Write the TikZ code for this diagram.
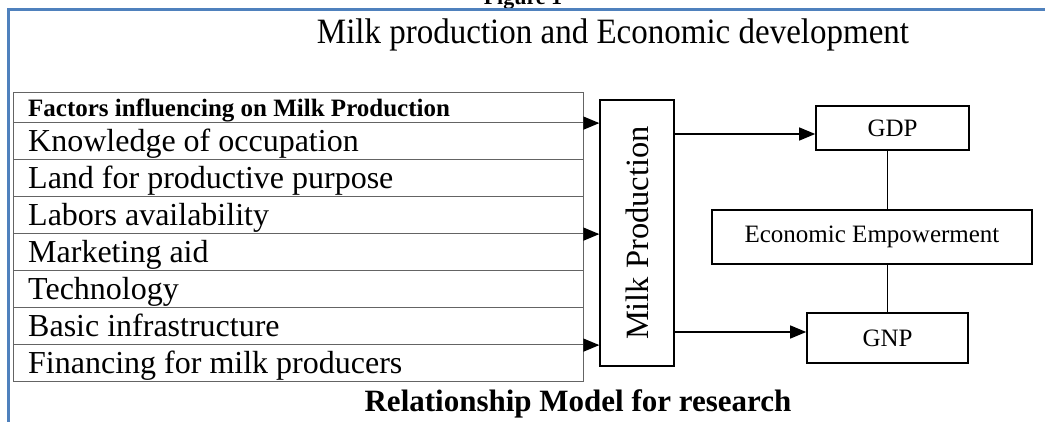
\documentclass[tikz,border=0pt]{standalone}
\usepackage{fontspec}
\setmainfont{Liberation Serif}
\usetikzlibrary{arrows.meta,calc}
\definecolor{framebl}{RGB}{79,129,189}
\definecolor{tabline}{RGB}{100,100,100}
\tikzset{
  rowbox/.style={draw=tabline, line width=1.1pt, minimum width=570pt, minimum height=37pt, inner sep=0pt, anchor=north west},
  hdrbox/.style={rowbox, minimum height=30pt},
  itemtxt/.style={font=\fontsize{32}{34}\selectfont, anchor=base west, inner sep=0pt},
  hdrtxt/.style={font=\fontsize{25}{27}\selectfont\bfseries, anchor=base west, inner sep=0pt},
  blkbox/.style={draw=black, line width=1.6pt, inner sep=0pt},
  boxtxt/.style={font=\fontsize{25}{27}\selectfont},
  arr/.style={line width=1.3pt, -{Triangle[length=16pt,width=13pt]}},
  conn/.style={line width=1.3pt}
}
\begin{document}
\begin{tikzpicture}[x=1pt,y=-1pt]
\useasboundingbox (0,0) rectangle (1045,421);
\fill[white] (0,0) rectangle (1045,421);
% partially visible heading
\node[font=\fontsize{22}{24}\selectfont\bfseries, anchor=base, inner sep=0pt] (fig) at (523,4) {Figure 1};
% frame
\draw[framebl, line width=3pt] (8,430) -- (8,9) -- (1060,9);
% title
\node[font=\fontsize{33}{35}\selectfont, anchor=base, inner sep=0pt, yscale=1.08] (title) at (613,43) {Milk production and Economic development};
% table
\node[hdrbox] (r0) at (13,92) {};
\node[rowbox] (r1) at (13,122) {};
\node[rowbox] (r2) at (13,159) {};
\node[rowbox] (r3) at (13,196) {};
\node[rowbox] (r4) at (13,233) {};
\node[rowbox] (r5) at (13,270) {};
\node[rowbox] (r6) at (13,307) {};
\node[rowbox] (r7) at (13,344) {};
\node[hdrtxt] (t0) at ($(r0.north west)+(15,24)$) {Factors influencing on Milk Production};
\node[itemtxt] (t1) at ($(r1.north west)+(15,29)$) {Knowledge of occupation};
\node[itemtxt] (t2) at ($(r2.north west)+(15,29)$) {Land for productive purpose};
\node[itemtxt] (t3) at ($(r3.north west)+(15,29)$) {Labors availability};
\node[itemtxt] (t4) at ($(r4.north west)+(15,29)$) {Marketing aid};
\node[itemtxt] (t5) at ($(r5.north west)+(15,29)$) {Technology};
\node[itemtxt] (t6) at ($(r6.north west)+(15,29)$) {Basic infrastructure};
\node[itemtxt] (t7) at ($(r7.north west)+(15,29)$) {Financing for milk producers};
% milk production box
\node[blkbox, line width=1.3pt, minimum width=74pt, minimum height=266pt] (mp) at (637,233) {};
\node[font=\fontsize{32.5}{34}\selectfont, rotate=90, inner sep=0pt] (mpt) at (mp.center) {Milk Production};
% arrows from table
\draw[arr] (r0.south east) -- (r0.south east -| mp.west);
\draw[arr] (r3.south east) -- (r3.south east -| mp.west);
\draw[arr] (r6.south east) -- (r6.south east -| mp.west);
% right boxes
\node[blkbox, minimum width=153pt, minimum height=44pt, boxtxt] (gdp) at (892.5,128) {GDP};
\node[blkbox, minimum width=320pt, minimum height=54pt, boxtxt] (ee) at (872,237) {Economic Empowerment};
\node[blkbox, minimum width=161pt, minimum height=50pt, boxtxt] (gnp) at (887.5,338) {GNP};
\draw[arr] ([yshift=-6pt]gdp.west -| mp.east) -- ([yshift=-6pt]gdp.west);
\draw[arr] ([yshift=6pt]gnp.west -| mp.east) -- ([yshift=6pt]gnp.west);
\draw[conn] (gnp.north |- gdp.south) -- (gnp.north |- ee.north);
\draw[conn] (gnp.north |- ee.south) -- (gnp.north);
% caption
\node[font=\fontsize{31}{33}\selectfont\bfseries, anchor=base, inner sep=0pt] (cap) at (578,411) {Relationship Model for research};
\end{tikzpicture}
\end{document}
